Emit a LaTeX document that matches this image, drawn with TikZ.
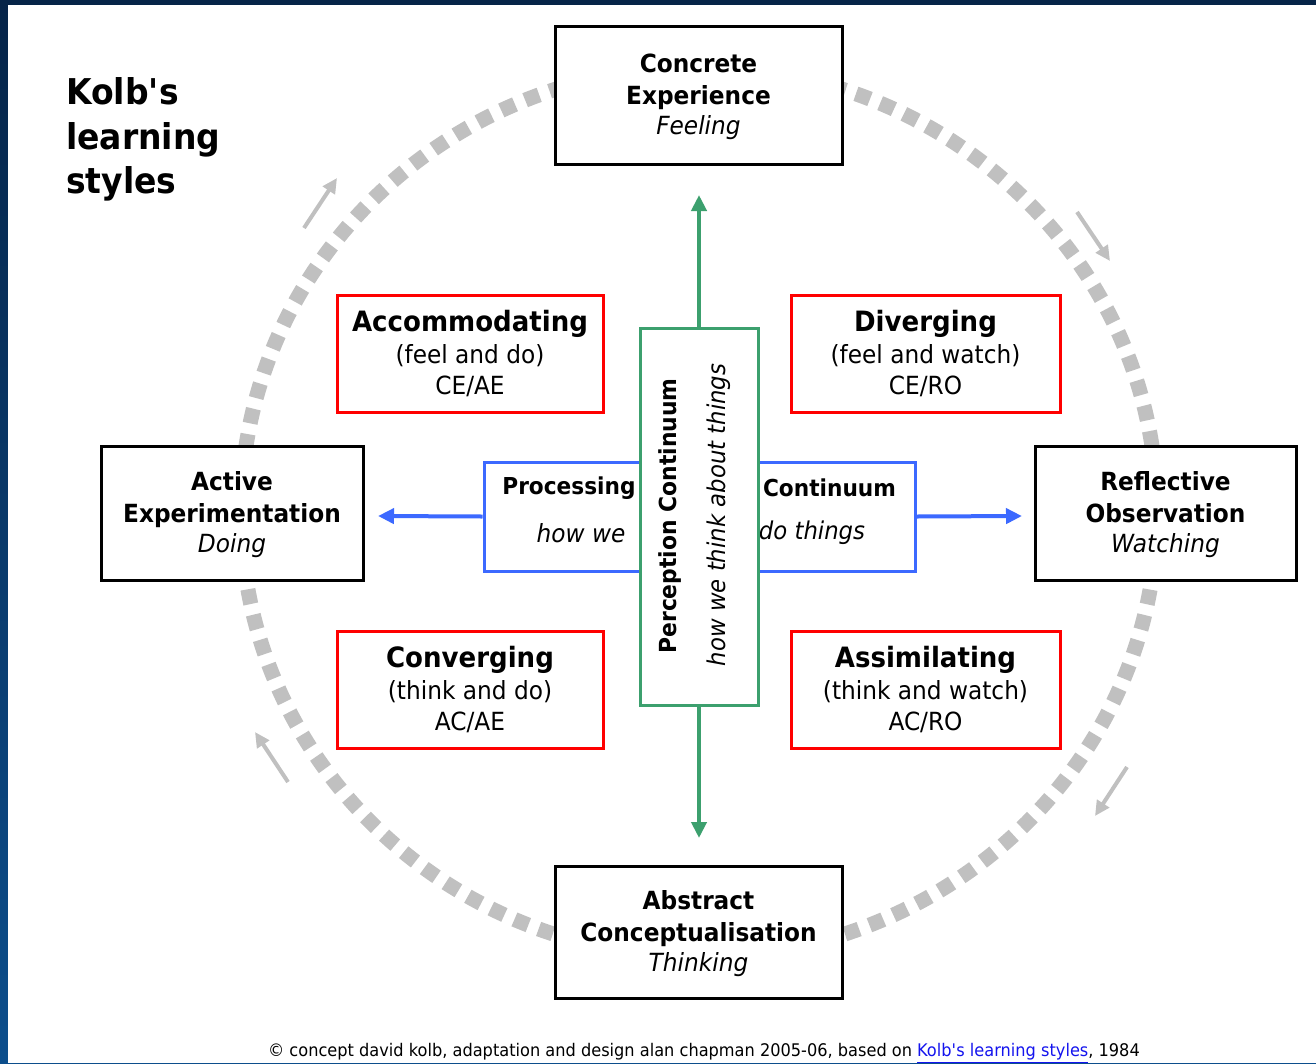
\documentclass[tikz,border=0pt]{standalone}
\usepackage{fontspec}
\setmainfont{DejaVu Sans}[FakeStretch=0.93]
\usetikzlibrary{arrows.meta}
\definecolor{navyA}{RGB}{6,36,72}
\definecolor{navyB}{RGB}{12,78,140}
\definecolor{ringgray}{RGB}{192,192,192}
\definecolor{kblue}{RGB}{60,105,255}
\definecolor{kgreen}{RGB}{60,160,110}
\definecolor{kred}{RGB}{255,0,0}
\definecolor{linkblue}{RGB}{20,20,238}
\newcommand{\apo}{\textquotesingle}
\newcommand{\topstrut}{\rule{0pt}{22.5pt}}
\begin{document}
\begin{tikzpicture}[x=1pt,y=-1pt,
  modebox/.style={draw=black,line width=3pt,fill=white,align=center,
    font=\fontsize{25}{32}\selectfont,inner sep=0pt},
  lstylebox/.style={draw=kred,line width=3pt,fill=white,align=center,
    font=\fontsize{25}{32}\selectfont,inner sep=0pt,minimum height=117pt},
  garrow/.style={ringgray,line width=4pt,-{Triangle[length=15pt,width=14pt]}},
  greenarrow/.style={kgreen,line width=4pt,-{Triangle[length=16pt,width=15pt]}},
  bluearrow/.style={kblue,line width=4pt,-{Triangle[length=16pt,width=15pt]}},
  plain/.style={inner sep=0pt}
]
\useasboundingbox (0,0) rectangle (1316,1063);
% background frame
\shade[top color=navyA,bottom color=navyB] (0,0) rectangle (1316,1063);
\fill[white] (8,5) rectangle (1316,1063);

% title
\node[plain,anchor=west,align=left,font=\fontsize{35.5}{44.5}\selectfont\bfseries] (title) at (66,139.5) {Kolb\apo s\\learning\\styles};

% dotted cycle ring
\draw[ringgray,line width=15pt,dash pattern=on 15pt off 11pt] (699,512) ellipse [x radius=458,y radius=445];

% small cycle arrows
\coordinate (g1s) at (304,228); \coordinate (g1e) at (337,178);
\coordinate (g2s) at (1077,212); \coordinate (g2e) at (1110,261);
\coordinate (g3s) at (1127,767); \coordinate (g3e) at (1095,816);
\coordinate (g4s) at (288,782); \coordinate (g4e) at (255,732);
\draw[garrow] (g1s) -- (g1e);
\draw[garrow] (g2s) -- (g2e);
\draw[garrow] (g3s) -- (g3e);
\draw[garrow] (g4s) -- (g4e);

% four modes
\node[modebox,minimum width=287pt,minimum height=138pt] (ce) at (698.5,95)
  {\topstrut{\bfseries Concrete}\\{\bfseries Experience}\\[-2.5pt]{\itshape Feeling}};
\node[modebox,minimum width=287pt,minimum height=132pt] (ac) at (698.5,932)
  {\topstrut{\bfseries Abstract}\\{\bfseries Conceptualisation}\\[-2.5pt]{\itshape Thinking}};
\node[modebox,minimum width=262pt,minimum height=134pt] (ae) at (232,513)
  {\topstrut{\bfseries Active}\\{\bfseries Experimentation}\\[-2.5pt]{\itshape Doing}};
\node[modebox,minimum width=261pt,minimum height=134pt] (ro) at (1165.5,513)
  {\topstrut{\bfseries Reflective}\\{\bfseries Observation}\\[-2.5pt]{\itshape Watching}};

% four learning styles
\node[lstylebox,minimum width=266pt] (acc) at (470,353.5)
  {{\fontsize{28}{32}\selectfont\bfseries Accommodating}\\(feel and do)\\[-1pt]CE/AE};
\node[lstylebox,minimum width=269pt] (div) at (925.5,353.5)
  {{\fontsize{28}{32}\selectfont\bfseries Diverging}\\(feel and watch)\\[-1pt]CE/RO};
\node[lstylebox,minimum width=266pt] (con) at (470,689.5)
  {{\fontsize{28}{32}\selectfont\bfseries Converging}\\(think and do)\\[-1pt]AC/AE};
\node[lstylebox,minimum width=269pt] (ass) at (925.5,689.5)
  {{\fontsize{28}{32}\selectfont\bfseries Assimilating}\\(think and watch)\\[-1pt]AC/RO};

% processing continuum (blue)
\node[draw=kblue,line width=3pt,fill=white,minimum width=431pt,minimum height=109pt,inner sep=0pt] (proc) at (699.5,516.5) {};
\node[plain,font=\fontsize{23.3}{26}\selectfont\bfseries] (proct1) at (569,488) {Processing};
\node[plain,font=\fontsize{23.3}{26}\selectfont\bfseries] (proct2) at (829.5,488) {Continuum};
\node[plain,font=\fontsize{25}{28}\selectfont\itshape] (proct3) at (581,533) {how we};
\node[plain,font=\fontsize{24.5}{28}\selectfont\itshape] (proct4) at (812,533) {do things};

% perception continuum (green)
\node[draw=kgreen,line width=3pt,fill=white,minimum width=118pt,minimum height=377pt,inner sep=0pt] (perc) at (699,516.5) {};
\node[plain,rotate=90,font=\fontsize{23.5}{26}\selectfont\bfseries] (perct1) at (670,516) {Perception Continuum};
\node[plain,rotate=90,font=\fontsize{24.5}{28}\selectfont\itshape] (perct2) at (719,515) {how we think about things};

% axis arrows
\coordinate (gtop) at (699,195);
\coordinate (gbot) at (699,838);
\coordinate (bleft) at (378,516);
\coordinate (bright) at (1022,516);
\draw[greenarrow] (perc.north) -- (gtop);
\draw[greenarrow] (perc.south) -- (gbot);
\draw[bluearrow] (proc.west) -- (bleft);
\draw[bluearrow] (proc.east) -- (bright);

% footer
\node[plain,font=\fontsize{17.4}{20}\selectfont] (foot) at (704,1053)
  {© concept david kolb, adaptation and design alan chapman 2005-06, based on \textcolor{linkblue}{\underline{Kolb\apo s learning styles}}, 1984};
\end{tikzpicture}
\end{document}
